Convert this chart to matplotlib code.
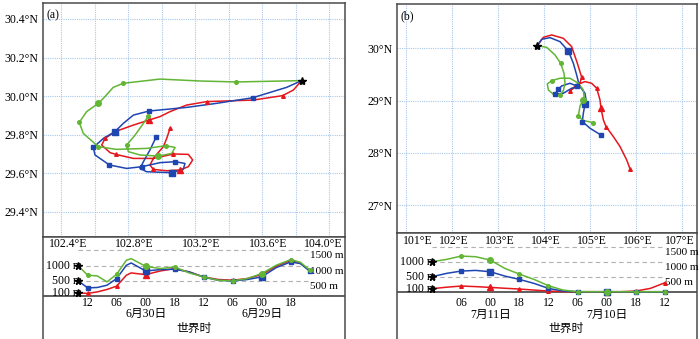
import matplotlib
matplotlib.use('Agg')
import matplotlib.pyplot as plt
import matplotlib.transforms as mtransforms

plt.rcParams['font.family'] = ['Liberation Serif', 'Noto Sans CJK SC']
plt.rcParams['font.size'] = 8.5

W, H = 700, 339

RED = '#e5161c'
BLUE = '#1f46b0'
GREEN = '#62b535'
GRID = '#a9c8ea'
FRAME = '#4a4a4a'

# ---------------- panel (a) map ----------------
a_start = (103.837, 30.080)
a_red_lon = [103.837, 103.787, 103.723, 103.548, 103.270, 103.150, 103.051, 102.991, 102.925, 102.832,
             102.722, 102.663, 102.643, 102.693, 102.728, 102.832, 102.951, 103.071, 103.160, 103.186,
             103.160, 103.110, 103.031, 102.951, 102.931, 102.955, 103.011, 103.031, 103.051]
a_red_lat = [30.080, 30.031, 30.002, 29.979, 29.971, 29.953, 29.919, 29.893, 29.875, 29.849,
             29.815, 29.780, 29.745, 29.706, 29.697, 29.676, 29.676, 29.699, 29.697, 29.668,
             29.633, 29.616, 29.612, 29.619, 29.642, 29.681, 29.737, 29.780, 29.832]
a_red_mark = [2, 4, 11, 14, 17, 23, 28]
a_red_big = [8, 21]

a_blue_lon = [103.837, 103.747, 103.544, 103.329, 103.150, 102.925, 102.832, 102.772, 102.722, 102.653,
              102.593, 102.603, 102.689, 102.792, 102.882, 102.991, 103.081, 103.140, 103.130, 103.061,
              102.911, 102.872, 102.892, 102.931, 102.967]
a_blue_lat = [30.080, 30.045, 29.991, 29.962, 29.941, 29.922, 29.901, 29.858, 29.815, 29.780,
              29.733, 29.694, 29.642, 29.624, 29.633, 29.654, 29.659, 29.650, 29.619, 29.602,
              29.607, 29.624, 29.659, 29.720, 29.785]
a_blue_mark = [2, 5, 10, 12, 14, 16, 24]
a_blue_big = [8, 19]

a_green_lon = [103.837, 103.445, 103.230, 102.991, 102.772, 102.712, 102.653, 102.623, 102.553, 102.509,
               102.533, 102.623, 102.732, 102.911, 103.025, 103.081, 103.061, 102.981, 102.872, 102.802,
               102.792, 102.842, 102.892, 102.921]
a_green_lat = [30.080, 30.073, 30.078, 30.088, 30.066, 30.045, 29.988, 29.962, 29.919, 29.863,
               29.806, 29.737, 29.723, 29.728, 29.742, 29.733, 29.702, 29.688, 29.694, 29.711,
               29.745, 29.797, 29.858, 29.896]
a_green_mark = [1, 4, 9, 11, 14, 20, 23]
a_green_big = [7, 17]

a_lat_ticks = [29.4, 29.6, 29.8, 30.0, 30.2, 30.4]
a_lon_grid = [102.4, 102.6, 102.8, 103.0, 103.2, 103.4, 103.6, 103.8, 104.0]
a_lon_labels = [102.4, 102.8, 103.2, 103.6, 104.0]

# ---------------- panel (a) heights ----------------
a_hours = [0, 2, 4, 6, 8, 10, 11, 14, 17, 20, 23, 26, 29, 32, 35, 38, 41, 44, 46, 48]
a_red_agl = [100, 80, 130, 210, 320, 680, 756, 700, 820, 900, 790, 625, 540, 515, 570, 700, 975, 1170, 1085, 820]
a_blue_agl = [500, 263, 275, 350, 570, 1008, 1085, 820, 865, 877, 790, 614, 515, 493, 537, 625, 930, 1118, 1063, 810]
a_green_agl = [1000, 680, 657, 460, 712, 1172, 1227, 975, 900, 953, 756, 625, 515, 493, 570, 734, 1008, 1195, 1107, 844]
a_mark_hours = [2, 8, 20, 26, 32, 44, 48]
a_big_hours = [14, 38]
a_tick_hours = [2, 8, 14, 20, 26, 32, 38, 44]
a_tick_labels = ['12', '06', '00', '18', '12', '06', '00', '18']
a_date_hours = [14, 38]
a_date_labels = ['6月30日', '6月29日']

# ---------------- panel (b) map ----------------
b_start = (103.855, 30.051)
b_red_lon = [103.855, 103.986, 104.167, 104.420, 104.601, 104.725, 104.819, 104.783, 104.674, 104.565,
             104.710, 104.891, 105.036, 105.145, 105.217, 105.239, 105.290, 105.348, 105.507, 105.652,
             105.797, 105.870]
b_red_lat = [30.051, 30.210, 30.255, 30.191, 30.032, 29.713, 29.446, 29.344, 29.255, 29.191,
             29.299, 29.363, 29.331, 29.236, 29.013, 28.854, 28.631, 28.503, 28.312, 28.121,
             27.866, 27.694]
b_red_mark = [6, 9, 13, 17, 21]
b_red_big = [15]

b_blue_lon = [103.855, 103.949, 104.130, 104.348, 104.529, 104.638, 104.710, 104.746, 104.710, 104.565,
              104.384, 104.312, 104.239, 104.420, 104.601, 104.783, 104.891, 104.913, 104.891, 104.855,
              104.833, 105.000, 105.232]
b_blue_lat = [30.051, 30.172, 30.204, 30.127, 29.949, 29.713, 29.490, 29.363, 29.280, 29.331,
              29.280, 29.217, 29.121, 29.140, 29.236, 29.268, 29.140, 29.013, 28.930, 28.758,
              28.599, 28.471, 28.344]
b_blue_mark = [8, 11, 12, 20, 22]
b_blue_big = [4, 18]

b_green_lon = [103.855, 104.058, 104.239, 104.362, 104.435, 104.457, 104.420, 104.348, 104.203, 104.094,
               104.072, 104.167, 104.348, 104.565, 104.746, 104.855, 104.870, 104.855, 104.783, 104.746,
               104.855, 105.072]
b_green_lat = [30.051, 30.019, 29.873, 29.713, 29.522, 29.331, 29.191, 29.108, 29.121, 29.204,
               29.318, 29.382, 29.427, 29.427, 29.331, 29.204, 29.076, 29.013, 28.898, 28.707,
               28.618, 28.580]
b_green_mark = [3, 7, 11, 19, 21]
b_green_big = [17]

b_lat_ticks = [27, 28, 29, 30]
b_lon_grid = [101, 102, 103, 104, 105, 106, 107]
b_lon_labels = [101, 102, 103, 104, 105, 106, 107]

# ---------------- panel (b) heights ----------------
b_hours = [0, 3, 6, 9, 12, 15, 18, 21, 24, 27, 30, 33, 36, 39, 42, 45, 48]
b_red_agl = [100, 150, 189, 170, 144, 115, 89, 55, 22, 5, 0, 0, 0, 0, 22, 111, 300]
b_blue_agl = [500, 611, 688, 710, 666, 522, 411, 278, 111, 22, 0, 0, 0, 0, 0, 0, 0]
b_green_agl = [1000, 1077, 1188, 1166, 1055, 777, 588, 411, 200, 55, 0, 0, 0, 0, 0, 0, 0]
b_mark_hours = [6, 18, 24, 30, 42, 48]
b_big_hours = [12, 36]
b_tick_hours = [6, 12, 18, 24, 30, 36, 42, 48]
b_tick_labels = ['06', '00', '18', '12', '06', '00', '18', '12']
b_date_hours = [12, 36]
b_date_labels = ['7月11日', '7月10日']

start_levels = [100, 500, 1000]
grid_levels = [500, 1000, 1500]


fig = plt.figure(figsize=(W / 100, H / 100), dpi=100)


def box(l, t, r, b):
    return [l / W, 1 - b / H, (r - l) / W, (b - t) / H]


def style_frame(ax, bottom=True):
    for s in ax.spines.values():
        s.set_color(FRAME)
        s.set_linewidth(1.1)
    ax.spines['bottom'].set_visible(bottom)


def draw_map(ax, traj, start, lat_ticks, lat_fmt, lon_grid, panel):
    for la in lat_ticks:
        ax.axhline(la, color=GRID, lw=0.8, ls=(0, (1, 1)), zorder=1)
    for lo in lon_grid:
        ax.axvline(lo, color=GRID, lw=0.8, ls=(0, (1, 1)), zorder=1)
    for lon, lat, mark, big, c, m in traj:
        ax.plot(lon, lat, color=c, lw=1.1, zorder=3)
        ax.plot([lon[i] for i in mark], [lat[i] for i in mark], ls='none', marker=m,
                color=c, ms=2.6, zorder=4)
        ax.plot([lon[i] for i in big], [lat[i] for i in big], ls='none', marker=m,
                color=c, ms=4.0, zorder=4)
    ax.plot(start[0], start[1], marker='*', color='k', ms=6, zorder=6)
    ax.set_yticks(lat_ticks)
    ax.set_yticklabels([lat_fmt(v) for v in lat_ticks])
    ax.set_xticks([])
    ax.tick_params(axis='y', length=0, pad=3.5)
    ax.text(0.012, 0.972, panel, transform=ax.transAxes, ha='left', va='top')
    style_frame(ax)


def draw_heights(ax, hours, series, mark_hours, big_hours):
    ax.hlines(grid_levels, hours[0], hours[-1], colors='#b0b0b0', lw=0.8,
              linestyles=(0, (4, 3)), zorder=1)
    ax.axhline(0, color='#333333', lw=1.1, zorder=2)
    mk = [hours.index(h) for h in mark_hours]
    bg = [hours.index(h) for h in big_hours]
    for agl, c, m in series:
        ax.plot(hours, agl, color=c, lw=1.1, zorder=3)
        ax.plot([hours[i] for i in mk], [agl[i] for i in mk], ls='none', marker=m,
                color=c, ms=2.6, zorder=4)
        ax.plot([hours[i] for i in bg], [agl[i] for i in bg], ls='none', marker=m,
                color=c, ms=4.0, zorder=4)
    for lev in start_levels:
        ax.plot(hours[0], lev, marker='*', color='k', ms=5.5, zorder=6)
        ax.annotate('%d m' % lev, (hours[0], lev), xytext=(3, 0), textcoords='offset points',
                    ha='right', va='center', zorder=5)
    for lev in grid_levels:
        ax.annotate('%d m' % lev, (hours[-1], lev), xytext=(0, -4), textcoords='offset points',
                    ha='left', va='center', fontsize=8, annotation_clip=False)
    ax.set_xticks([])
    ax.set_yticks([])
    style_frame(ax, bottom=False)


def lon_text(map_ax, lons, fmt, y_px, shift):
    tr_mid = mtransforms.offset_copy(
        mtransforms.blended_transform_factory(map_ax.transData, fig.transFigure),
        fig=fig, x=shift, units='dots')
    tr_ax = mtransforms.blended_transform_factory(map_ax.transAxes, fig.transFigure)
    y = 1 - y_px / H
    for i, lo in enumerate(lons):
        if i == 0:
            fig.text(0.02, y, fmt(lo), transform=tr_ax, ha='left', va='center')
        elif i == len(lons) - 1:
            fig.text(0.992, y, fmt(lo), transform=tr_ax, ha='right', va='center')
        else:
            fig.text(lo, y, fmt(lo), transform=tr_mid, ha='center', va='center')


def time_text(hax, tick_hours, tick_labels, date_hours, date_labels, ys, title_x):
    tr = mtransforms.blended_transform_factory(hax.transData, fig.transFigure)
    for h, s in zip(tick_hours, tick_labels):
        fig.text(h, 1 - ys[0] / H, s, transform=tr, ha='center', va='center')
    for h, s in zip(date_hours, date_labels):
        fig.text(h, 1 - ys[1] / H, s, transform=tr, ha='center', va='center')
    fig.text(title_x / W, 1 - ys[2] / H, '世界时', ha='center', va='center')


# ---- panel (a) ----
map_a = fig.add_axes(box(43, 3, 345, 237))
map_a.set_xlim(102.2925, 104.0955)
map_a.set_ylim(29.268, 30.483)
draw_map(map_a,
         [(a_red_lon, a_red_lat, a_red_mark, a_red_big, RED, '^'),
          (a_blue_lon, a_blue_lat, a_blue_mark, a_blue_big, BLUE, 's'),
          (a_green_lon, a_green_lat, a_green_mark, a_green_big, GREEN, 'o')],
         a_start, a_lat_ticks, lambda v: '%.1f°N' % v, a_lon_grid, '(a)')

h_a = fig.add_axes(box(43, 237, 345, 341))
h_a.set_xlim(-7.24, 55.24)
h_a.set_ylim(-1490, 1941)
draw_heights(h_a, a_hours,
             [(a_red_agl, RED, '^'), (a_blue_agl, BLUE, 's'), (a_green_agl, GREEN, 'o')],
             a_mark_hours, a_big_hours)
lon_text(map_a, a_lon_labels, lambda v: '%.1f°E' % v, 244, 6)
time_text(h_a, a_tick_hours, a_tick_labels, a_date_hours, a_date_labels, (303, 314, 329), 194)

# ---- panel (b) ----
map_b = fig.add_axes(box(397, 4, 697, 233))
map_b.set_xlim(100.804, 107.326)
map_b.set_ylim(26.468, 30.847)
draw_map(map_b,
         [(b_red_lon, b_red_lat, b_red_mark, b_red_big, RED, '^'),
          (b_blue_lon, b_blue_lat, b_blue_mark, b_blue_big, BLUE, 's'),
          (b_green_lon, b_green_lat, b_green_mark, b_green_big, GREEN, 'o')],
         b_start, b_lat_ticks, lambda v: '%d°N' % v, b_lon_grid, '(b)')

h_b = fig.add_axes(box(397, 233, 697, 341))
h_b.set_xlim(-7.21, 54.6)
h_b.set_ylim(-1643, 1957)
draw_heights(h_b, b_hours,
             [(b_red_agl, RED, '^'), (b_blue_agl, BLUE, 's'), (b_green_agl, GREEN, 'o')],
             b_mark_hours, b_big_hours)
lon_text(map_b, b_lon_labels, lambda v: '%d°E' % v, 241, 2)
time_text(h_b, b_tick_hours, b_tick_labels, b_date_hours, b_date_labels, (303, 315, 329), 566)

fig.savefig('out.png', dpi=100)
